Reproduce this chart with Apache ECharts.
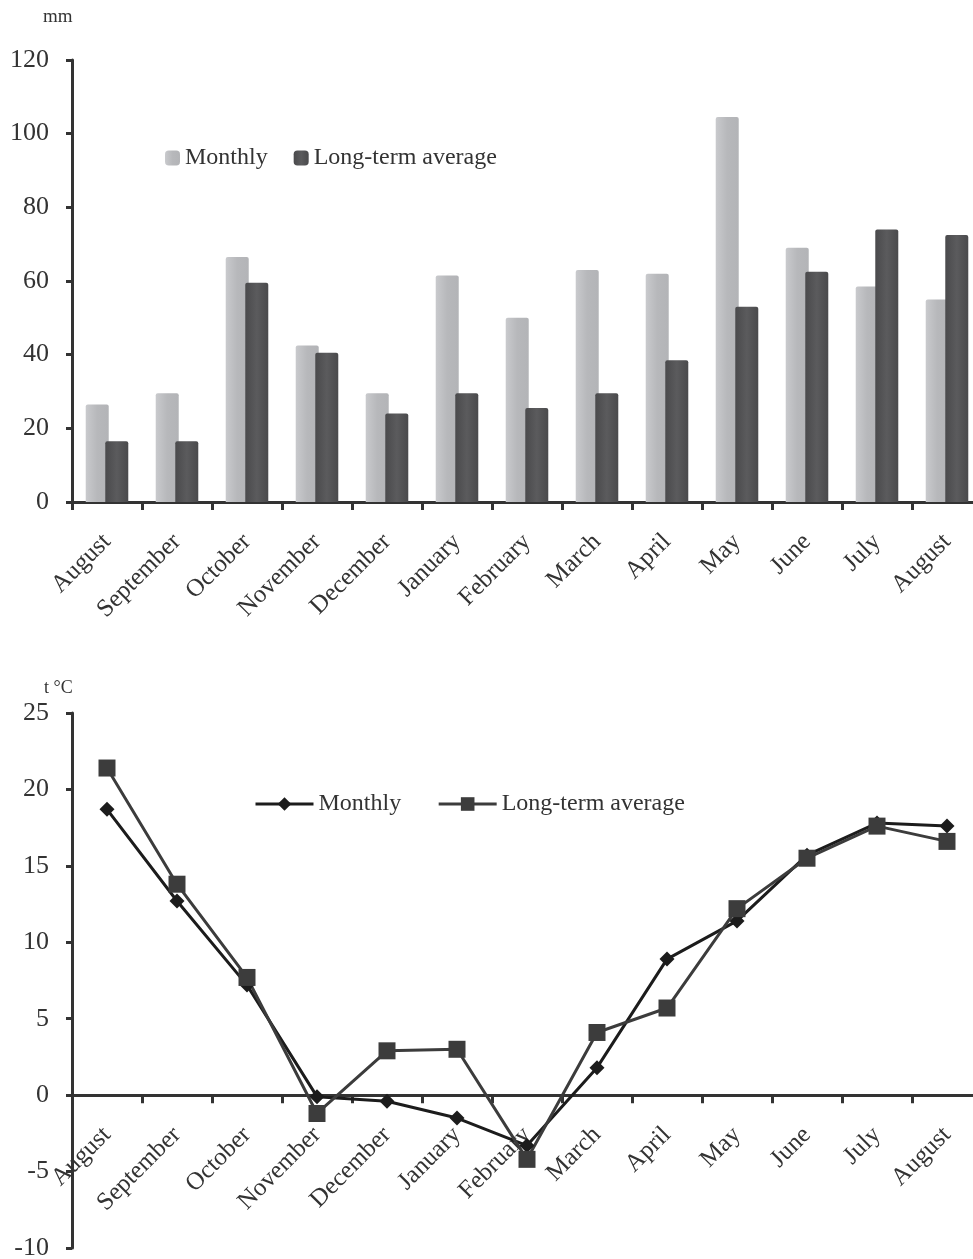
<!DOCTYPE html>
<html>
<head>
<meta charset="utf-8">
<script src="https://cdn.jsdelivr.net/npm/echarts@6/dist/echarts.min.js"></script>
<style>
html,body{margin:0;padding:0;background:#fff;}
#chart{width:973px;height:1259px;}
</style>
</head>
<body>
<div id="chart"></div>
<script>
const months = ['August','September','October','November','December','January','February','March','April','May','June','July','August'];
const precipMonthly = [26.5, 29.5, 66.5, 42.5, 29.5, 61.5, 50, 63, 62, 104.5, 69, 58.5, 55];
const precipAverage = [16.5, 16.5, 59.5, 40.5, 24, 29.5, 25.5, 29.5, 38.5, 53, 62.5, 74, 72.5];
const tempMonthly = [18.7, 12.7, 7.2, -0.1, -0.4, -1.5, -3.3, 1.8, 8.9, 11.4, 15.7, 17.8, 17.6];
const tempAverage = [21.4, 13.8, 7.7, -1.2, 2.9, 3.0, -4.2, 4.1, 5.7, 12.2, 15.5, 17.6, 16.6];
const legendNames = ['Monthly', 'Long-term average'];
const tempTicks = {min:-10, max:25, interval:5};
const precipTicks = {min:0, max:120, interval:20};

const FONT = 'Liberation Serif';
const AX = '#333333';
const chart = echarts.init(document.getElementById('chart'));

const G0 = {left:72, top:60, width:910, height:442};
const G1 = {left:72, top:713, width:910, height:535};

const lightBar = new echarts.graphic.LinearGradient(0,0,1,0,[
  {offset:0,color:'#c9cacd'},{offset:0.5,color:'#b7b8bb'},{offset:1,color:'#b3b4b7'}]);
const darkBar = new echarts.graphic.LinearGradient(0,0,1,0,[
  {offset:0,color:'#4a4a4c'},{offset:0.5,color:'#5b5b5d'},{offset:1,color:'#4a4a4c'}]);

function xAx(gi, offset){
  return {
    type:'category', gridIndex:gi, data:months, position:'bottom', offset:offset,
    axisLine:{onZero:false, lineStyle:{color:AX, width:3}},
    axisTick:{show:true, interval:0, length:8, lineStyle:{color:AX, width:3}},
    axisLabel:{interval:0, rotate:45, margin:36,
               fontFamily:FONT, fontSize:25, color:AX},
    splitLine:{show:false}
  };
}
function yAx(gi, t){
  return {
    type:'value', gridIndex:gi, min:t.min, max:t.max, interval:t.interval,
    axisLine:{show:true, lineStyle:{color:AX, width:3}},
    axisTick:{show:true, length:6, lineStyle:{color:AX, width:3}},
    axisLabel:{fontFamily:FONT, fontSize:26, color:AX, margin:23},
    splitLine:{show:false}
  };
}
// the temperature x-axis sits on the zero line of its value scale
const zeroOffset = -((0 - tempTicks.min) / (tempTicks.max - tempTicks.min)) * G1.height;

chart.setOption({
  animation:false,
  backgroundColor:'#fff',
  grid:[
    Object.assign({outerBoundsMode:'none', containLabel:false}, G0),
    Object.assign({outerBoundsMode:'none', containLabel:false}, G1)
  ],
  xAxis:[xAx(0, 0), xAx(1, zeroOffset)],
  yAxis:[yAx(0, precipTicks), yAx(1, tempTicks)],
  legend:[
    {data:['Monthly','Long-term average'], left:160, top:141, itemWidth:15, itemHeight:15, itemGap:26,
     textStyle:{fontFamily:FONT, fontSize:24, color:AX}},
    {data:['Monthly t','Long-term average t'], left:249, top:787, itemWidth:58, itemHeight:17, itemGap:36,
     lineStyle:{width:3},
     formatter:function(n){return n==='Monthly t'?legendNames[0]:legendNames[1];},
     textStyle:{fontFamily:FONT, fontSize:24, color:AX}}
  ],
  graphic:[
    {type:'text', left:43, top:8, style:{text:'mm', fontFamily:FONT, fontSize:19, fill:AX}},
    {type:'text', left:44, top:679, style:{text:'t °C', fontFamily:FONT, fontSize:18, fill:AX}}
  ],
  series:[
    {name:'Monthly', type:'bar', xAxisIndex:0, yAxisIndex:0, data:precipMonthly,
     barWidth:23, barGap:'-15%', itemStyle:{color:lightBar, borderRadius:[2,2,0,0]}},
    {name:'Long-term average', type:'bar', xAxisIndex:0, yAxisIndex:0, data:precipAverage,
     barWidth:23, barGap:'-15%', itemStyle:{color:darkBar, borderRadius:[2,2,0,0]}},
    {name:'Monthly t', type:'line', xAxisIndex:1, yAxisIndex:1, data:tempMonthly,
     symbol:'diamond', symbolSize:15, lineStyle:{color:'#1c1c1c', width:3},
     itemStyle:{color:'#1c1c1c'}},
    {name:'Long-term average t', type:'line', xAxisIndex:1, yAxisIndex:1, data:tempAverage,
     symbol:'rect', symbolSize:17, lineStyle:{color:'#3c3c3c', width:3},
     itemStyle:{color:'#3c3c3c'}}
  ]
});
</script>
</body>
</html>
